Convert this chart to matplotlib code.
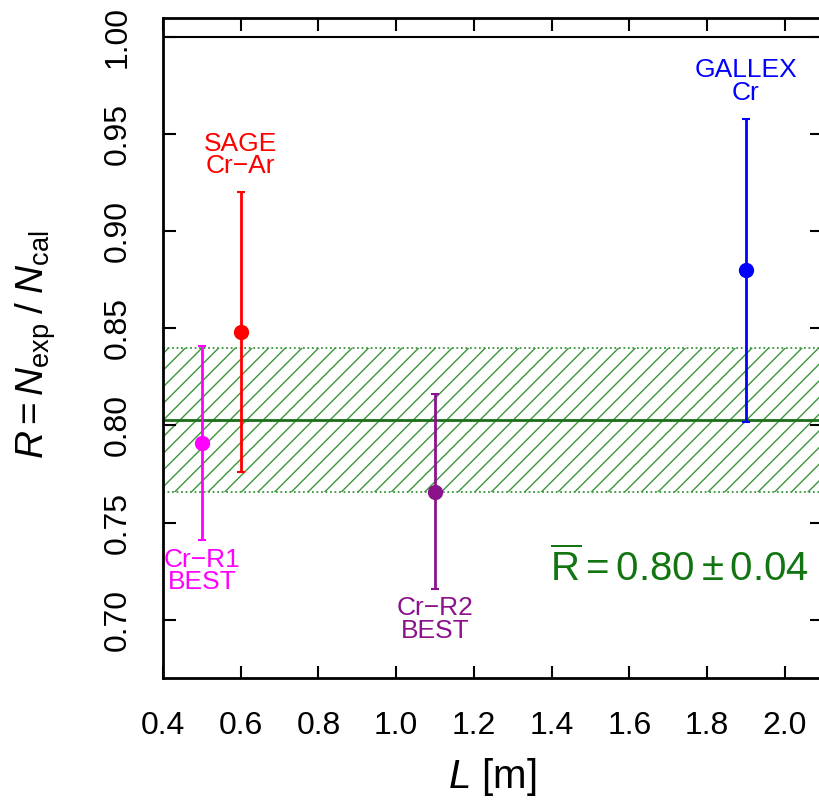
import matplotlib
matplotlib.use("Agg")
import matplotlib.pyplot as plt
from matplotlib.patches import Rectangle

plt.rcParams['font.family'] = ['Liberation Sans', 'DejaVu Sans']
plt.rcParams['mathtext.fontset'] = 'custom'
plt.rcParams['mathtext.rm'] = 'Liberation Sans'
plt.rcParams['mathtext.it'] = 'Liberation Sans:italic'
plt.rcParams['mathtext.bf'] = 'Liberation Sans:bold'
plt.rcParams['hatch.linewidth'] = 1.0

# ---- data ----
names = ["Cr\u2212R1\nBEST", "SAGE\nCr\u2212Ar", "Cr\u2212R2\nBEST", "GALLEX\nCr"]
L = [0.5, 0.6, 1.1, 1.9]
R = [0.791, 0.848, 0.766, 0.880]
R_err = [0.050, 0.072, 0.050, 0.078]
colors = ["#FF00FF", "#FF0000", "#8B128B", "#0000FF"]
label_pos = ["below", "above", "below", "above"]

R_mean = 0.803
R_mean_err = 0.037

xticks = [0.4, 0.6, 0.8, 1.0, 1.2, 1.4, 1.6, 1.8, 2.0]
yticks = [0.70, 0.75, 0.80, 0.85, 0.90, 0.95, 1.00]

fig = plt.figure(figsize=(8.2, 8.02), dpi=100)
ax = fig.add_axes([163/820, 1-678/802, 1-163/820+0.002, (678-18)/802])

ax.set_xlim(0.4, 2.095)
ax.set_ylim(0.670, 1.0098)

green_hatch = "#3a963a"
band = Rectangle((0.4, R_mean - R_mean_err), 1.7, 2*R_mean_err,
                 facecolor="none", edgecolor=green_hatch, hatch="//",
                 linewidth=0, zorder=1)
ax.add_patch(band)
for yb in (R_mean - R_mean_err, R_mean + R_mean_err):
    ax.axhline(yb, color=green_hatch, lw=1.3, ls=(0, (1, 1.5)), zorder=1)
ax.axhline(R_mean, color="#1b6e1b", lw=2.0, zorder=2)
ax.axhline(1.0, color="black", lw=1.5, zorder=2)

for x, y, e, c, n, p in zip(L, R, R_err, colors, names, label_pos):
    ax.errorbar(x, y, yerr=e, fmt='o', color=c, ms=10, elinewidth=2.0,
                capsize=3, capthick=1.5, zorder=4)
    if p == "above":
        ax.text(x, y + e + 0.0072, n, color=c, ha='center', va='bottom',
                fontsize=19, linespacing=0.92, zorder=5)
    else:
        ax.text(x, y - e - 0.004, n, color=c, ha='center', va='top',
                fontsize=19, linespacing=0.92, zorder=5)

ax.text(2.062, 0.7265, r'$\overline{\rm R} = 0.80 \pm 0.04$', color="#127512",
        ha='right', va='center', fontsize=29, zorder=5)

ax.set_xticks(xticks)
ax.set_xticklabels([f"{v:.1f}" for v in xticks])
ax.set_yticks(yticks)
ax.set_yticklabels([f"{v:.2f}" for v in yticks], rotation=90, va='center')

ax.tick_params(axis='both', direction='in', length=9, width=1.5,
               labelsize=23, top=True, right=True)
ax.tick_params(axis='x', pad=24)
ax.tick_params(axis='y', pad=22)
for s in ax.spines.values():
    s.set_linewidth(2.0)

ax.set_xlabel(r'$L$ [m]', fontsize=29)
ax.set_ylabel(r'$R = N_{\rm exp}\;/\;N_{\rm cal}$', fontsize=28)
ax.xaxis.set_label_coords(0.5, -0.118)
ax.yaxis.set_label_coords(-0.16, 0.505)

fig.savefig("out.png", dpi=100)
